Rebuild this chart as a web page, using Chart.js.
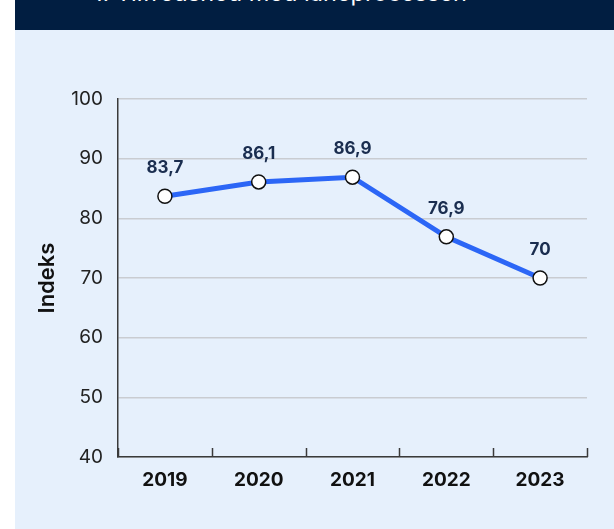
<!DOCTYPE html>
<html>
<head>
<meta charset="utf-8">
<script src="https://cdn.jsdelivr.net/npm/chart.js@4/dist/chart.umd.min.js"></script>
<style>
  html,body{margin:0;padding:0;background:#fff;overflow:hidden;}
  #card{position:absolute;left:15px;top:0;width:620px;height:540px;background:#e6f0fc;}
  #head{position:absolute;left:0;top:0;width:100%;height:30px;background:#011e41;overflow:hidden;}
  #head span{position:absolute;left:78px;top:-22px;color:#fff;font:23.5px Inter,"Open Sans",sans-serif;white-space:nowrap;}
  #wrap{position:absolute;left:0;top:30px;width:599px;height:499px;}
</style>
</head>
<body>
<div id="card">
  <div id="head"><span>1. Tilfredshed med låneprocessen</span></div>
  <div id="wrap"><canvas id="chart" width="599" height="499"></canvas></div>
</div>
<script>
const years = ['2019', '2020', '2021', '2022', '2023'];
const indexValues = [83.7, 86.1, 86.9, 76.9, 70];
const yTicks = [40, 50, 60, 70, 80, 90, 100];

const FONT = 'Inter, "Open Sans", sans-serif';

// value labels above each point, with Danish decimal comma
const valueLabels = {
  id: 'valueLabels',
  afterDatasetsDraw(chart) {
    const ctx = chart.ctx;
    const meta = chart.getDatasetMeta(0);
    ctx.save();
    ctx.font = 'bold 17px ' + FONT;
    ctx.fillStyle = '#1a2d4f';
    ctx.textAlign = 'center';
    ctx.textBaseline = 'middle';
    meta.data.forEach((pt, i) => {
      ctx.fillText(String(indexValues[i]).replace('.', ','), pt.x, pt.y - 28);
    });
    ctx.restore();
  }
};

// small tick marks pointing up from the x axis at category edges
const upTicks = {
  id: 'upTicks',
  afterDraw(chart) {
    const ctx = chart.ctx;
    const x = chart.scales.x;
    const n = years.length;
    ctx.save();
    ctx.strokeStyle = '#3a3a3a';
    ctx.lineWidth = 1.5;
    for (let i = 0; i <= n; i++) {
      const px = Math.round(x.left + i * (x.right - x.left) / n) + 0.5;
      ctx.beginPath();
      ctx.moveTo(px, x.top - 9);
      ctx.lineTo(px, x.top);
      ctx.stroke();
    }
    ctx.restore();
  }
};

new Chart(document.getElementById('chart'), {
  type: 'line',
  data: {
    labels: years,
    datasets: [{
      data: indexValues,
      borderColor: '#2c66f6',
      borderWidth: 5,
      tension: 0,
      pointRadius: 7,
      pointHoverRadius: 7,
      pointBackgroundColor: '#fff',
      pointBorderColor: '#111',
      pointBorderWidth: 1.5
    }]
  },
  options: {
    responsive: false,
    animation: false,
    layout: { padding: { top: 69, right: 27, bottom: 0, left: 0 } },
    plugins: { legend: { display: false }, tooltip: { enabled: false } },
    scales: {
      x: {
        offset: true,
        grid: { display: false },
        border: { display: true, color: '#3a3a3a', width: 1.5 },
        ticks: { color: '#111', padding: 4, font: { family: FONT, size: 19, weight: 'bold' } },
        afterFit: s => { s.height = 72; }
      },
      y: {
        min: 40,
        max: 100,
        afterBuildTicks: s => { s.ticks = yTicks.map(v => ({ value: v })); },
        grid: { color: '#c9ccd1', lineWidth: 1.5, drawTicks: false },
        border: { display: true, color: '#3a3a3a', width: 1.5 },
        ticks: { color: '#222', padding: 15, font: { family: FONT, size: 19 } },
        title: { display: true, text: 'Indeks', color: '#111', padding: { top: 19, bottom: 0 }, font: { family: FONT, size: 22, weight: '600' } },
        afterFit: s => { s.width = 103; }
      }
    }
  },
  plugins: [valueLabels, upTicks]
});
</script>
</body>
</html>
